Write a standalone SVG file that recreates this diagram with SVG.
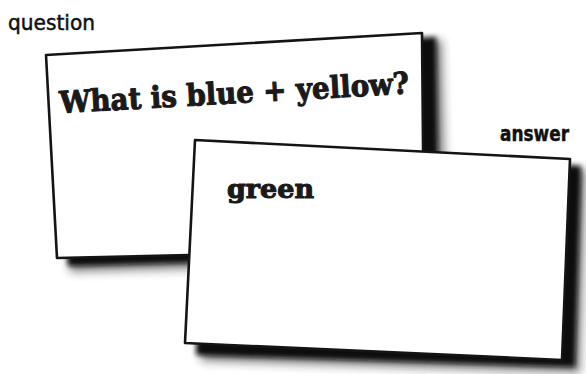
<svg xmlns="http://www.w3.org/2000/svg" width="586" height="374" viewBox="0 0 586 374">
  <defs>
    <filter id="blurSoft" x="-20%" y="-20%" width="140%" height="140%">
      <feGaussianBlur stdDeviation="2.5"/>
    </filter>
    <filter id="blurWide" x="-20%" y="-20%" width="140%" height="140%">
      <feGaussianBlur stdDeviation="5"/>
    </filter>
  </defs>
  <style>
    .card { fill: #ffffff; stroke: #141414; stroke-width: 2.6; stroke-linejoin: round; }
    .shadow-core { fill: #111111; filter: url(#blurSoft); }
    .shadow-halo { fill: #222222; opacity: 0.55; filter: url(#blurWide); }
    .slab { font-family: "DejaVu Serif", "Liberation Serif", serif; font-weight: bold; fill: #1a1a1a; stroke: #1a1a1a; stroke-width: 1.1; stroke-linejoin: round; }
    .hand { font-family: "DejaVu Sans", "Liberation Sans", sans-serif; fill: #111111; stroke: #111111; stroke-width: 0.5; }
  </style>
  <rect width="586" height="374" fill="#ffffff"/>

  <g id="card-question">
    <path class="shadow-halo" d="M62,62 L442,40 L447,262 L70,272 Z"/>
    <path class="shadow-core" d="M58,60 L436,37 L439,256 L68,266 Z"/>
    <path class="card" d="M46,55 L422,33 L424,250 L57,258 Z"/>
    <text class="slab" x="0" y="0" font-size="30" textLength="350" lengthAdjust="spacingAndGlyphs" transform="translate(60,113) rotate(-3.2)">What is blue + yellow?</text>
  </g>

  <g id="card-answer">
    <path class="shadow-halo" d="M209,152 L586,170 L580,373 L201,361 Z"/>
    <path class="shadow-core" d="M205,148 L581,166 L575,367 L196,355 Z"/>
    <path class="card" d="M195,140 L570,159 L562,360 L185,343 Z"/>
    <text class="slab" x="227" y="198" font-size="26" textLength="87" lengthAdjust="spacingAndGlyphs">green</text>
  </g>

  <g id="labels">
    <text class="hand" x="8" y="30" font-size="21" textLength="87" lengthAdjust="spacingAndGlyphs">question</text>
    <text class="hand" x="500" y="141" font-size="21" font-weight="bold" textLength="69" lengthAdjust="spacingAndGlyphs">answer</text>
  </g>
</svg>
